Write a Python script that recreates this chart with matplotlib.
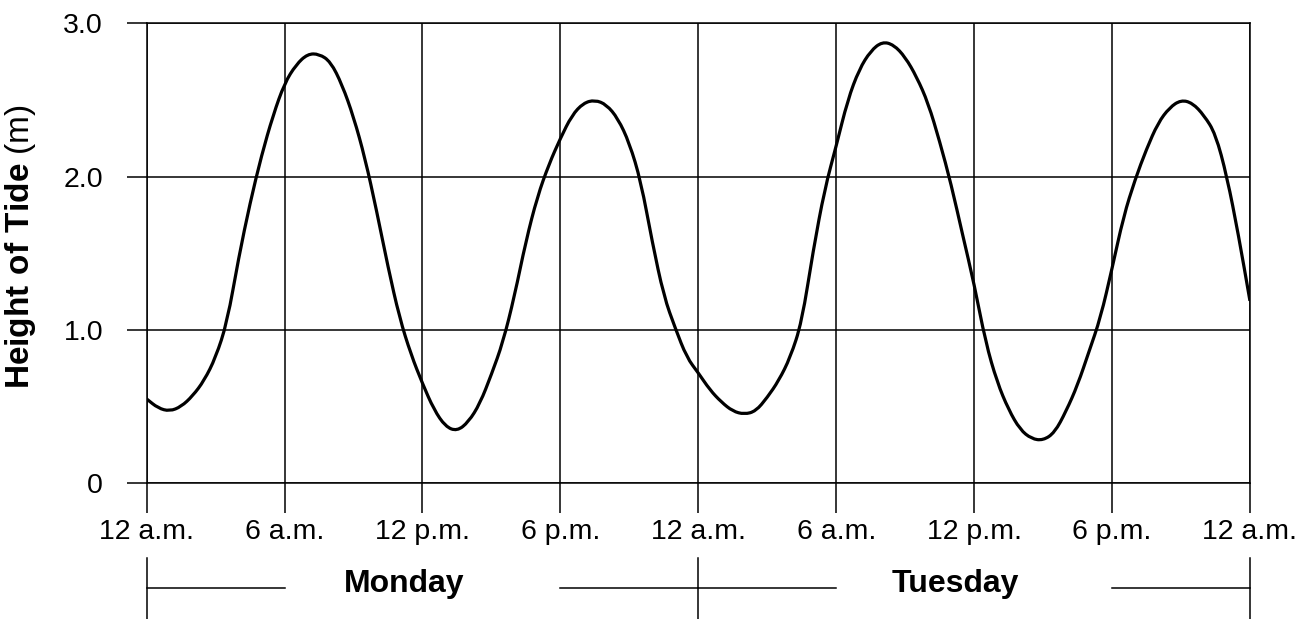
import matplotlib
matplotlib.use("Agg")
import matplotlib.pyplot as plt
import matplotlib.transforms as mtransforms
from matplotlib.path import Path
from matplotlib.patches import PathPatch

plt.rcParams['font.family'] = ['Liberation Sans', 'DejaVu Sans']
plt.rcParams['mathtext.fontset'] = 'custom'
plt.rcParams['mathtext.rm'] = 'Liberation Sans'
plt.rcParams['mathtext.bf'] = 'Liberation Sans:bold'

# hours since Monday 12 a.m., read every half hour off the chart
hours = [0.0, 0.5, 1.0, 1.5, 2.0, 2.5, 3.0, 3.5, 4.0, 4.5,
         5.0, 5.5, 6.0, 6.5, 7.0, 7.5, 8.0, 8.5, 9.0, 9.5,
         10.0, 10.5, 11.0, 11.5, 12.0, 12.5, 13.0, 13.5, 14.0, 14.5,
         15.0, 15.5, 16.0, 16.5, 17.0, 17.5, 18.0, 18.5, 19.0, 19.5,
         20.0, 20.5, 21.0, 21.5, 22.0, 22.5, 23.0, 23.5, 24.0, 24.5,
         25.0, 25.5, 26.0, 26.5, 27.0, 27.5, 28.0, 28.5, 29.0, 29.5,
         30.0, 30.5, 31.0, 31.5, 32.0, 32.5, 33.0, 33.5, 34.0, 34.5,
         35.0, 35.5, 36.0, 36.5, 37.0, 37.5, 38.0, 38.5, 39.0, 39.5,
         40.0, 40.5, 41.0, 41.5, 42.0, 42.5, 43.0, 43.5, 44.0, 44.5,
         45.0, 45.5, 46.0, 46.5, 47.0, 47.5, 48.0]
tide_height = [0.55, 0.49, 0.47, 0.50, 0.57, 0.67, 0.82, 1.05, 1.47, 1.83,
               2.14, 2.40, 2.61, 2.73, 2.80, 2.80, 2.75, 2.60, 2.39, 2.12,
               1.78, 1.41, 1.08, 0.84, 0.65, 0.48, 0.37, 0.34, 0.40, 0.52,
               0.71, 0.92, 1.22, 1.58, 1.87, 2.08, 2.25, 2.40, 2.48, 2.50,
               2.47, 2.38, 2.22, 1.97, 1.57, 1.22, 1.01, 0.82, 0.72, 0.61,
               0.53, 0.47, 0.45, 0.47, 0.56, 0.67, 0.82, 1.05, 1.52, 1.92,
               2.20, 2.50, 2.70, 2.82, 2.88, 2.86, 2.78, 2.65, 2.48, 2.23,
               1.95, 1.62, 1.30, 0.92, 0.66, 0.48, 0.35, 0.29, 0.28, 0.33,
               0.47, 0.64, 0.86, 1.08, 1.40, 1.74, 1.98, 2.18, 2.35, 2.45,
               2.50, 2.48, 2.40, 2.28, 2.00, 1.62, 1.19]

x_ticks = [0, 6, 12, 18, 24, 30, 36, 42, 48]
x_labels = ['12 a.m.', '6 a.m.', '12 p.m.', '6 p.m.', '12 a.m.',
            '6 a.m.', '12 p.m.', '6 p.m.', '12 a.m.']
y_ticks = [0, 1, 2, 3]
y_labels = ['0', '1.0', '2.0', '3.0']
days = ['Monday', 'Tuesday']
day_start = [0, 24]

fig = plt.figure(figsize=(13.12, 6.19), dpi=100)
ax = fig.add_axes([0.1118, 0.2192, 0.8409, 0.7432])

# smooth line through the readings (quadratic bezier between midpoints)
pts = list(zip(hours, tide_height))
verts = [pts[0], ((pts[0][0] + pts[1][0]) / 2, (pts[0][1] + pts[1][1]) / 2)]
codes = [Path.MOVETO, Path.LINETO]
for i in range(1, len(pts) - 1):
    nxt = pts[i + 1]
    verts += [pts[i], ((pts[i][0] + nxt[0]) / 2, (pts[i][1] + nxt[1]) / 2)]
    codes += [Path.CURVE3, Path.CURVE3]
verts.append(pts[-1])
codes.append(Path.LINETO)
ax.add_patch(PathPatch(Path(verts, codes), facecolor='none',
                       edgecolor='black', lw=2.3, zorder=3))

ax.set_xlim(0, 48)
ax.set_ylim(0, 3)
ax.set_xticks(x_ticks)
ax.set_xticklabels(x_labels, fontsize=20.5)
ax.set_yticks(y_ticks)
ax.set_yticklabels(y_labels, fontsize=20.5)
ax.tick_params(axis='x', length=21.6, width=1.1, pad=4, color='black')
ax.tick_params(axis='y', length=14.4, width=1.1, pad=17, color='black')
ax.grid(True, color='black', lw=1.1)
for s in ax.spines.values():
    s.set_linewidth(1.1)
    s.set_color('black')

fig.text(0.016, 0.601, r'$\bf{Height\ of\ Tide}$ (m)', rotation=90,
         ha='center', va='center', fontsize=24)

# day brackets under the axis
trans = mtransforms.blended_transform_factory(ax.transData, ax.transAxes)
for name, start in zip(days, day_start):
    ax.plot([start, start + 6], [-0.2276, -0.2276], color='black', lw=1.1,
            transform=trans, clip_on=False)
    ax.plot([start + 18, start + 24], [-0.2276, -0.2276], color='black', lw=1.1,
            transform=trans, clip_on=False)
    ax.text(start + 11.2, -0.236, name, transform=trans, ha='center',
            va='baseline', fontsize=23, fontweight='bold')
for d in [0, 24, 48]:
    ax.plot([d, d], [-0.162, -0.30], color='black', lw=1.1,
            transform=trans, clip_on=False)

fig.savefig('out.png', dpi=100)
